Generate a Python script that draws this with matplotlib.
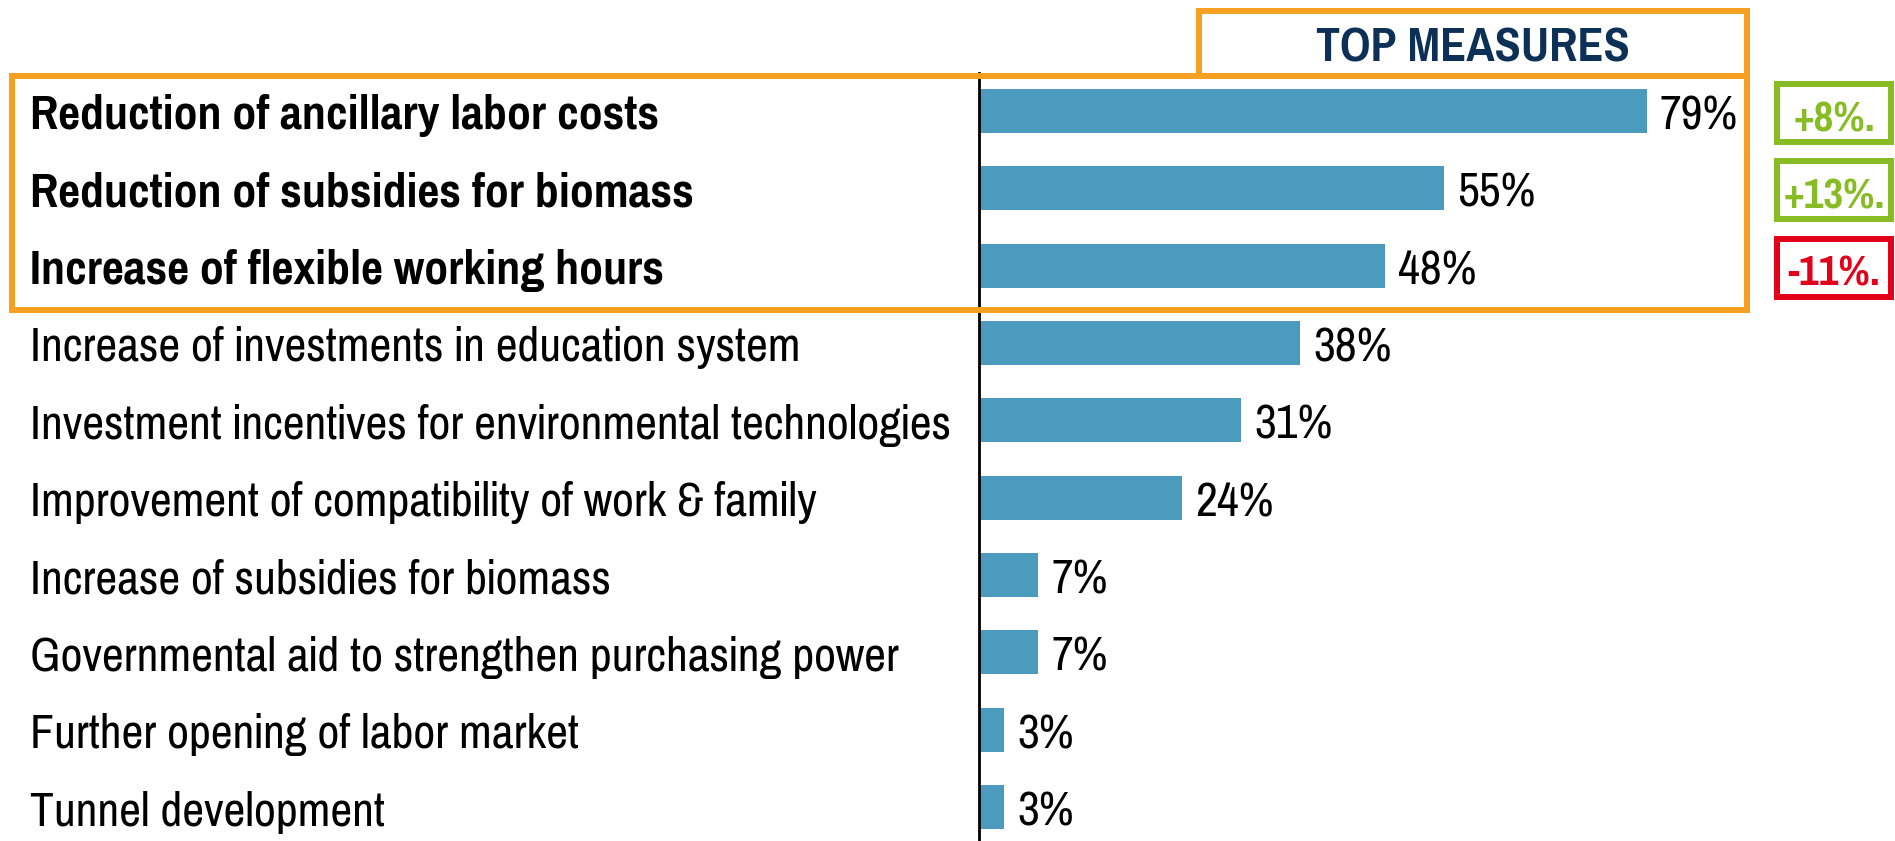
import matplotlib.pyplot as plt
from matplotlib.patches import Rectangle
from matplotlib.transforms import blended_transform_factory

measures = ['Reduction of ancillary labor costs',
            'Reduction of subsidies for biomass',
            'Increase of flexible working hours',
            'Increase of investments in education system',
            'Investment incentives for environmental technologies',
            'Improvement of compatibility of work & family',
            'Increase of subsidies for biomass',
            'Governmental aid to strengthen purchasing power',
            'Further opening of labor market',
            'Tunnel development']
shares = [79, 55, 48, 38, 31, 24, 7, 7, 3, 3]
changes = ['+8%.', '+13%.', '-11%.']
change_colors = ['#87bc24', '#87bc24', '#e2001a']
n_top = 3

bar_color = '#4b9bbe'
orange = '#f5a021'
navy = '#0c3056'
plt.rcParams['font.family'] = ['Pragati Narrow', 'Liberation Sans', 'DejaVu Sans']

W, H = 1895, 841
fig = plt.figure(figsize=(W / 100, H / 100), dpi=100)
ax = fig.add_axes([979 / W, 0, (W - 979) / W, (H - 73) / H])


def fit_size(text, target_px, weight='normal'):
    # pick a font size so that text spans target_px pixels wide
    t = fig.text(0, 0, text, fontsize=30, fontweight=weight)
    w = t.get_window_extent(renderer=fig.canvas.get_renderer()).width
    t.remove()
    return 30 * target_px / w


fs = fit_size(measures[4], 920)
fs_bold = fit_size(measures[0], 631, 'bold')

rows = list(range(len(measures)))
ax.barh(rows, shares, height=0.57, color=bar_color, zorder=1)
ax.set_xlim(0, (W - 979) / 8.45)
ax.set_ylim(9.44, -0.49)
for s in ['top', 'right', 'bottom']:
    ax.spines[s].set_visible(False)
ax.spines['left'].set_linewidth(2)
ax.spines['left'].set_zorder(3)
ax.set_xticks([])
ax.set_yticks([])

base = 0.24  # baseline offset below row centre, in rows
for i, v in enumerate(shares):
    ax.text(v + 1.55, i + base, f'{v}%', ha='left', va='baseline',
            fontsize=fs, color='black')

# labels and boxes: x in figure fraction, y in rows
tr = blended_transform_factory(fig.transFigure, ax.transData)
for i, name in enumerate(measures):
    bold = i < n_top
    ax.text(30 / W, i + base, name, transform=tr, ha='left', va='baseline',
            fontsize=fs_bold if bold else fs,
            fontweight='bold' if bold else 'normal',
            color='black', clip_on=False)

# box around top measures
ax.add_patch(Rectangle((12 / W, -0.455), (1747 - 12) / W, 2.58 + 0.455,
                       transform=tr, fill=False, edgecolor=orange,
                       linewidth=4.3, clip_on=False, zorder=4))
# title box
ax.add_patch(Rectangle((1199 / W, -1.29), (1747 - 1199) / W, 1.29 - 0.455,
                       transform=tr, fill=False, edgecolor=orange,
                       linewidth=4.3, clip_on=False, zorder=4))
ax.text(1473 / W, -0.64, 'TOP MEASURES', transform=tr, ha='center',
        va='baseline', fontsize=fs_bold, fontweight='bold', color=navy,
        clip_on=False)

# change vs previous survey
for i, (c, col) in enumerate(zip(changes, change_colors)):
    ax.add_patch(Rectangle((1777 / W, i - 0.35), (1891 - 1777) / W, 0.75,
                           transform=tr, fill=False, edgecolor=col,
                           linewidth=4.3, clip_on=False, zorder=4))
    ax.text(1834 / W, i + 0.02 + base, c, transform=tr, ha='center',
            va='baseline', fontsize=fs_bold * 0.9, fontweight='bold',
            color=col, clip_on=False)

fig.savefig('out.png', dpi=100)
